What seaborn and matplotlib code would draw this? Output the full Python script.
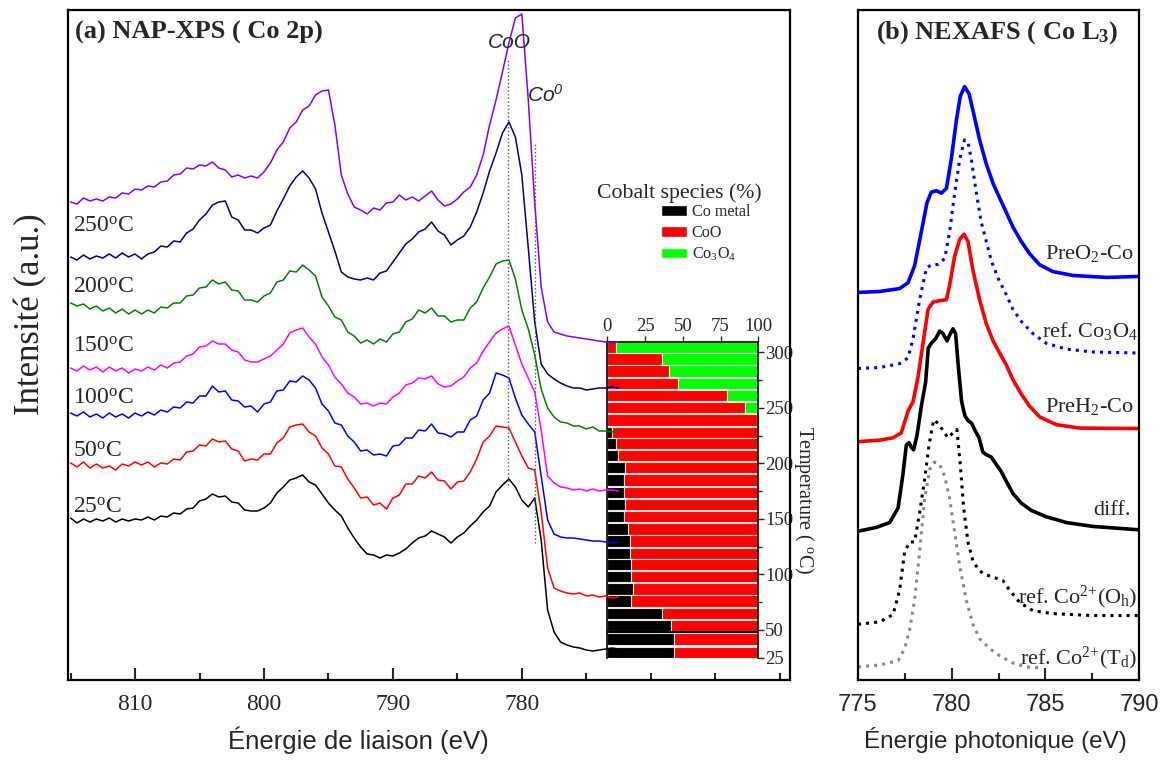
import matplotlib
matplotlib.use('Agg')
import matplotlib.pyplot as plt
import seaborn as sns
from matplotlib.patches import Patch
from matplotlib.ticker import MultipleLocator

sns.set_theme(style="ticks")
SERIF = ['Liberation Serif', 'DejaVu Serif']
SANS = ['Liberation Sans', 'DejaVu Sans']
plt.rcParams['font.family'] = SERIF
plt.rcParams['mathtext.default'] = 'regular'
plt.rcParams['axes.edgecolor'] = 'black'

# ---------------- (a) NAP-XPS Co 2p spectra ----------------
energy_xps = [815.0, 814.5, 814.0, 813.5, 813.0, 812.5, 812.0, 811.5, 811.0, 810.5,
              810.0, 809.5, 809.0, 808.5, 808.0, 807.5, 807.0, 806.5, 806.0, 805.5,
              805.0, 804.5, 804.0, 803.5, 803.0, 802.5, 802.0, 801.5, 801.0, 800.5,
              800.0, 799.5, 799.0, 798.5, 798.0, 797.5, 797.0, 796.5, 796.0, 795.5,
              795.0, 794.5, 794.0, 793.5, 793.0, 792.5, 792.0, 791.5, 791.0, 790.5,
              790.0, 789.5, 789.0, 788.5, 788.0, 787.5, 787.0, 786.5, 786.0, 785.5,
              785.0, 784.5, 784.0, 783.5, 783.0, 782.5, 782.0, 781.5, 781.0, 780.5,
              780.0, 779.5, 779.0, 778.5, 778.0, 777.5, 777.0, 776.5, 776.0, 775.5,
              775.0, 774.5, 774.0, 773.5, 773.0, 772.5]

xps_300 = [478, 476, 482, 479, 481, 479, 483, 482, 487, 486,
           491, 490, 494, 493, 498, 499, 505, 506, 512, 511,
           515, 514, 518, 512, 510, 503, 505, 502, 504, 502,
           508, 517, 530, 538, 552, 558, 570, 574, 585, 589,
           590, 555, 505, 486, 473, 470, 466, 472, 470, 477,
           478, 485, 480, 483, 479, 484, 489, 480, 474, 476,
           481, 488, 493, 505, 525, 555, 580, 608, 637, 662,
           666, 580, 477, 393, 358, 348, 346, 344, 343, 342,
           341, 340, 339, 338, 337, 338]
xps_250 = [423, 420, 425, 421, 424, 422, 426, 422, 427, 423,
           426, 421, 426, 428, 434, 433, 439, 438, 447, 451,
           460, 466, 475, 478, 479, 463, 460, 450, 450, 447,
           452, 455, 469, 481, 494, 503, 509, 502, 491, 467,
           448, 429, 408, 403, 401, 400, 402, 400, 407, 409,
           418, 427, 436, 441, 448, 451, 458, 449, 445, 435,
           440, 444, 453, 468, 487, 509, 527, 547, 558, 543,
           505, 432, 358, 316, 306, 301, 297, 294, 292, 292,
           290, 291, 292, 292, 293, 292]
xps_200 = [377, 374, 376, 371, 374, 369, 372, 367, 371, 366,
           370, 366, 370, 367, 373, 372, 377, 377, 384, 385,
           392, 393, 400, 396, 398, 390, 389, 380, 380, 378,
           384, 387, 398, 400, 409, 408, 415, 410, 404, 383,
           374, 363, 360, 348, 344, 337, 340, 336, 341, 338,
           346, 348, 358, 361, 370, 367, 372, 364, 364, 358,
           360, 360, 372, 378, 392, 403, 416, 419, 420, 401,
           370, 351, 325, 291, 272, 263, 258, 257, 254, 254,
           251, 253, 249, 249, 248, 249]
xps_150 = [312, 309, 314, 310, 313, 308, 313, 309, 312, 307,
           311, 309, 313, 310, 315, 312, 317, 318, 324, 326,
           333, 334, 339, 336, 336, 330, 328, 320, 318, 318,
           321, 324, 330, 336, 347, 350, 352, 343, 336, 323,
           315, 303, 296, 287, 283, 276, 277, 274, 277, 276,
           283, 287, 295, 297, 302, 301, 304, 296, 293, 294,
           299, 303, 312, 317, 329, 338, 347, 351, 354, 335,
           316, 302, 288, 250, 204, 197, 193, 192, 190, 191,
           189, 191, 189, 190, 190, 189]
xps_100 = [267, 264, 268, 263, 266, 262, 267, 263, 266, 262,
           267, 264, 268, 265, 270, 268, 273, 272, 278, 277,
           284, 284, 294, 288, 289, 280, 279, 273, 274, 268,
           276, 278, 289, 290, 299, 298, 304, 300, 292, 276,
           269, 257, 255, 244, 238, 229, 230, 225, 226, 224,
           234, 235, 242, 242, 250, 249, 256, 247, 246, 243,
           248, 248, 260, 264, 280, 287, 307, 305, 302, 282,
           265, 256, 248, 204, 160, 146, 143, 142, 142, 141,
           140, 139, 139, 138, 137, 138]
xps_50 = [217, 213, 218, 212, 216, 212, 214, 210, 216, 214,
          218, 215, 218, 213, 217, 216, 221, 220, 228, 229,
          235, 234, 241, 238, 239, 231, 229, 219, 221, 220,
          226, 226, 237, 242, 253, 255, 256, 248, 244, 232,
          226, 214, 213, 201, 192, 182, 183, 175, 177, 171,
          182, 185, 196, 196, 204, 202, 208, 200, 199, 191,
          198, 199, 208, 221, 238, 244, 254, 253, 252, 238,
          224, 212, 210, 168, 112, 92, 89, 87, 86, 87,
          84, 85, 83, 84, 82, 83]
xps_25 = [162, 157, 161, 158, 161, 159, 162, 158, 161, 159,
          161, 160, 163, 160, 164, 163, 167, 166, 171, 172,
          179, 181, 186, 183, 184, 178, 177, 170, 169, 169,
          172, 177, 187, 193, 200, 202, 205, 198, 195, 186,
          177, 170, 164, 152, 142, 133, 126, 125, 122, 125,
          124, 127, 131, 137, 142, 144, 149, 146, 143, 137,
          143, 147, 154, 160, 168, 174, 188, 195, 201, 193,
          180, 173, 182, 140, 70, 48, 38, 35, 33, 32,
          30, 29, 30, 31, 32, 31]

xps_series = [xps_300, xps_250, xps_200, xps_150, xps_100, xps_50, xps_25]
xps_colors = ['#8000ff', '#000080', '#008000', '#ff00ff', '#0000ff', '#ff0000', '#000000']
temp_labels = ['250$^{o}$C', '200$^{o}$C', '150$^{o}$C', '100$^{o}$C', '50$^{o}$C', '25$^{o}$C']
temp_label_y = [454, 393, 334, 282, 229, 173]

COO_EV, CO0_EV = 781.1, 778.95

# ---------------- inset: cobalt species ----------------
species_temp = [304, 294, 283, 272, 261, 250, 239, 228, 218, 207, 196, 185, 174,
                163, 152, 141, 130, 119, 109, 98, 87, 76, 65, 54, 42, 30]
co_metal = [0, 0, 0, 0, 0, 0, 0, 3, 6, 7, 12, 11, 11,
            12, 11, 14, 15, 15, 16, 16, 17, 16, 36, 42, 44, 44]
co_oxide = [6, 36, 41, 47, 79, 91, 99, 97, 94, 93, 88, 89, 89,
            88, 89, 86, 85, 85, 84, 84, 83, 84, 64, 58, 56, 56]
co3o4 = [94, 64, 59, 53, 21, 9, 1, 0, 0, 0, 0, 0, 0,
         0, 0, 0, 0, 0, 0, 0, 0, 0, 0, 0, 0, 0]

# ---------------- (b) NEXAFS Co L3 ----------------
preo2_e = [775.00, 776.16, 777.22, 777.67, 778.02, 778.38, 778.68, 778.91, 779.18, 779.45,
           779.72, 779.98, 780.25, 780.46, 780.69, 780.93, 781.14, 781.49, 781.85, 782.21,
           782.56, 782.92, 783.27, 783.72, 784.16, 784.70, 785.41, 786.48, 788.26, 790.00]
preo2_i = [800, 802, 808, 820, 855, 925, 985, 1007, 1010, 1005,
           1015, 1075, 1155, 1205, 1225, 1210, 1175, 1115, 1065, 1025,
           995, 965, 935, 905, 880, 857, 843, 835, 831, 833]
co3o4_e = [775.00, 776.16, 777.22, 777.67, 777.94, 778.29, 778.65, 778.91, 779.27, 779.63,
           779.89, 780.16, 780.43, 780.69, 780.87, 781.05, 781.32, 781.58, 781.85, 782.12,
           782.47, 782.92, 783.27, 783.72, 784.34, 785.05, 786.12, 787.54, 790.00]
co3o4_i = [643, 645, 653, 665, 705, 785, 850, 857, 858, 870,
           925, 1005, 1075, 1115, 1110, 1075, 1005, 945, 905, 865,
           830, 795, 765, 740, 715, 695, 683, 677, 675]
preh2_e = [775.00, 776.16, 776.87, 777.31, 777.67, 777.94, 778.20, 778.47, 778.74, 779.00,
           779.36, 779.72, 779.89, 780.16, 780.43, 780.66, 780.87, 781.14, 781.49, 781.85,
           782.21, 782.56, 782.92, 783.27, 783.72, 784.16, 784.70, 785.59, 786.83, 790.00]
preh2_i = [492, 495, 500, 510, 555, 575, 625, 695, 765, 780,
           783, 785, 815, 875, 910, 920, 905, 845, 785, 735,
           700, 675, 650, 620, 590, 565, 543, 527, 520, 519]
diff_e = [775.00, 775.98, 776.69, 777.14, 777.40, 777.58, 777.72, 777.85, 777.97, 778.15,
          778.38, 778.61, 778.75, 778.91, 779.15, 779.36, 779.54, 779.75, 779.93, 780.07,
          780.21, 780.36, 780.53, 780.71, 780.89, 781.07, 781.25, 781.46, 781.67, 781.85,
          782.12, 782.38, 782.65, 782.92, 783.27, 783.72, 784.25, 785.05, 786.12, 787.54,
          790.00]
diff_i = [307, 315, 325, 355, 425, 485, 490, 480, 475, 505,
          565, 615, 685, 695, 705, 720, 715, 700, 715, 725,
          715, 645, 575, 545, 535, 530, 515, 500, 470, 465,
          460, 445, 430, 410, 385, 365, 350, 337, 325, 317,
          310]
oh_e = [775.00, 776.16, 776.87, 777.22, 777.49, 777.76, 778.02, 778.29, 778.56, 778.79,
        779.04, 779.27, 779.54, 779.80, 780.07, 780.28, 780.46, 780.64, 780.87, 781.14,
        781.49, 781.85, 782.38, 782.74, 783.10, 783.63, 784.34, 785.41, 787.54, 790.00]
oh_i = [115, 120, 135, 185, 265, 285, 285, 345, 415, 485,
        537, 530, 515, 500, 510, 517, 445, 355, 285, 245,
        225, 217, 210, 205, 185, 160, 143, 137, 133, 133]
td_e = [775.00, 776.16, 777.14, 777.49, 777.76, 778.02, 778.29, 778.56, 778.83, 779.09,
        779.36, 779.63, 779.89, 780.16, 780.43, 780.78, 781.14, 781.49, 782.03, 782.56,
        783.27, 783.99, 784.70]
td_i = [27, 31, 40, 65, 105, 165, 265, 375, 435, 450,
        445, 420, 375, 305, 235, 165, 115, 85, 65, 50,
        35, 27, 25]

fig = plt.figure(figsize=(11.65, 7.6), dpi=100)
W, H = 1165, 760
ax_a = fig.add_axes([68 / W, 80 / H, 722 / W, 670 / H])
ax_in = fig.add_axes([607.3 / W, (H - 658.3) / H, 151 / W, 316.6 / H])
ax_b = fig.add_axes([858 / W, 80 / H, 281 / W, 670 / H])
ax_a.set_zorder(3)
ax_a.patch.set_visible(False)
ax_in.set_zorder(2)

# panel (a)
for ys, c in zip(xps_series, xps_colors):
    sns.lineplot(x=energy_xps, y=ys, ax=ax_a, color=c, lw=1.1)
ax_a.vlines(COO_EV, 195, 622, colors='#555555', linestyles=':', lw=1.0)
ax_a.vlines(CO0_EV, 137, 537, colors='#555555', linestyles=':', lw=1.0)
ax_a.text(780.93, 637, 'CoO', family=SANS, style='italic', fontsize=15, ha='center', va='center')
ax_a.text(779.6, 585, 'Co$^{0}$', family=SANS, style='italic', fontsize=15, ha='left', va='center')
for lab, yy in zip(temp_labels, temp_label_y):
    ax_a.text(814.8, yy, lab, fontsize=17, ha='left', va='center')
ax_a.text(0.0097, 0.967, '(a) NAP-XPS ( Co 2p)', transform=ax_a.transAxes,
          fontsize=19, fontweight='bold', ha='left', va='center')

ax_a.set_xlim(815.2, 759.2)
ax_a.set_ylim(0, 670)
ax_a.set_yticks([])
ax_a.xaxis.set_minor_locator(MultipleLocator(5))
ax_a.set_xticks([810, 800, 790, 780])
ax_a.tick_params(axis='x', which='major', direction='in', length=9, width=1.5, labelsize=17, pad=10)
ax_a.tick_params(axis='x', which='minor', direction='in', length=5, width=1.5)
ax_a.set_xlabel('Énergie de liaison (eV)', fontsize=18.5, family=SANS)
ax_a.xaxis.label.set_va('center')
ax_a.xaxis.set_label_coords((358 - 68) / 722, -0.09)
ax_a.set_ylabel('')
for sp in ax_a.spines.values():
    sp.set_visible(True)
    sp.set_linewidth(1.6)

fig.text(31 / W, 1 - 314 / H, 'Intensité (a.u.)', rotation=90, fontsize=25, ha='center', va='center')

# inset stacked bars
bar_h = 10.2
ax_in.barh(species_temp, co_metal, height=bar_h, color='black', edgecolor='#e6e6e6', lw=0.8)
ax_in.barh(species_temp, co_oxide, left=co_metal, height=bar_h, color='#ff0000', edgecolor='#e6e6e6', lw=0.8)
left3 = [m + o for m, o in zip(co_metal, co_oxide)]
ax_in.barh(species_temp, co3o4, left=left3, height=bar_h, color='#00ff00', edgecolor='#e6e6e6', lw=0.8)
ax_in.axhline(48, color='black', lw=1.5)
ax_in.set_xlim(0, 100)
ax_in.set_ylim(24.5, 309.5)
ax_in.xaxis.tick_top()
ax_in.yaxis.tick_right()
ax_in.set_xticks([0, 25, 50, 75, 100])
ax_in.set_yticks([25, 50, 100, 150, 200, 250, 300])
ax_in.yaxis.set_minor_locator(MultipleLocator(25))
ax_in.tick_params(axis='both', which='major', direction='out', length=4, width=1, labelsize=13.5, pad=1)
ax_in.tick_params(axis='y', which='minor', direction='out', length=3, width=1)
ax_in.spines['bottom'].set_visible(False)
for k in ['left', 'right', 'top']:
    ax_in.spines[k].set_visible(True)
    ax_in.spines[k].set_linewidth(1.2)
ax_in.set_ylabel('Temperature ( $^{o}$C)', fontsize=14.5, rotation=270)
ax_in.yaxis.label.set_va('center')
ax_in.yaxis.label.set_ha('center')
ax_in.yaxis.set_label_coords((804 - 607.3) / 151, 0.5)

fig.text(679.5 / W, 1 - 193 / H, 'Cobalt species (%)', fontsize=15.7, ha='center', va='center')
handles = [Patch(facecolor='black'), Patch(facecolor='#ff0000'), Patch(facecolor='#00ff00')]
ax_a.legend(handles, ['Co metal', 'CoO', 'Co$_3$O$_4$'], loc='upper left',
            bbox_to_anchor=(661 / W, 1 - 204 / H), bbox_transform=fig.transFigure,
            frameon=False, fontsize=11.6, handlelength=1.6, handleheight=0.65,
            labelspacing=0.3, borderpad=0, borderaxespad=0, handletextpad=0.3)

# panel (b)
sns.lineplot(x=preo2_e, y=preo2_i, ax=ax_b, color='#0000ff', lw=2.6)
sns.lineplot(x=co3o4_e, y=co3o4_i, ax=ax_b, color='#0000ff', lw=2.2, linestyle=':')
sns.lineplot(x=preh2_e, y=preh2_i, ax=ax_b, color='#ff0000', lw=2.6)
sns.lineplot(x=diff_e, y=diff_i, ax=ax_b, color='black', lw=2.6)
sns.lineplot(x=oh_e, y=oh_i, ax=ax_b, color='black', lw=2.2, linestyle=':')
sns.lineplot(x=td_e, y=td_i, ax=ax_b, color='#888888', lw=2.2, linestyle=':')

nex_labels = ['PreO$_2$-Co', 'ref. Co$_3$O$_4$', 'PreH$_2$-Co', 'diff.',
              'ref. Co$^{2{+}}$(O$_h$)', 'ref. Co$^{2{+}}$(T$_d$)']
nex_label_y = [880, 720, 565, 350, 170, 45]
nex_label_x = [789.7, 789.95, 789.7, 789.55, 789.9, 789.9]
for lab, xx, yy in zip(nex_labels, nex_label_x, nex_label_y):
    ax_b.text(xx, yy, lab, fontsize=16, ha='right', va='center')
ax_b.text(0.495, 0.967, '(b) NEXAFS ( Co L$_3$)', transform=ax_b.transAxes,
          fontsize=19, fontweight='bold', ha='center', va='center')

ax_b.set_xlim(775, 790)
ax_b.set_ylim(0, 1383)
ax_b.set_yticks([])
ax_b.xaxis.set_major_locator(MultipleLocator(5))
ax_b.xaxis.set_minor_locator(MultipleLocator(2.5))
ax_b.tick_params(axis='x', which='major', direction='in', length=9, width=1.5, labelsize=17, pad=10)
ax_b.tick_params(axis='x', which='minor', direction='in', length=5, width=1.5)
for t in ax_b.get_xticklabels():
    t.set_family(SANS)
ax_b.set_xlabel('Énergie photonique (eV)', fontsize=17.5, family=SANS)
ax_b.xaxis.label.set_va('center')
ax_b.xaxis.set_label_coords(0.49, -0.09)
ax_b.set_ylabel('')
for sp in ax_b.spines.values():
    sp.set_visible(True)
    sp.set_linewidth(1.6)

fig.savefig('out.png', dpi=100)
